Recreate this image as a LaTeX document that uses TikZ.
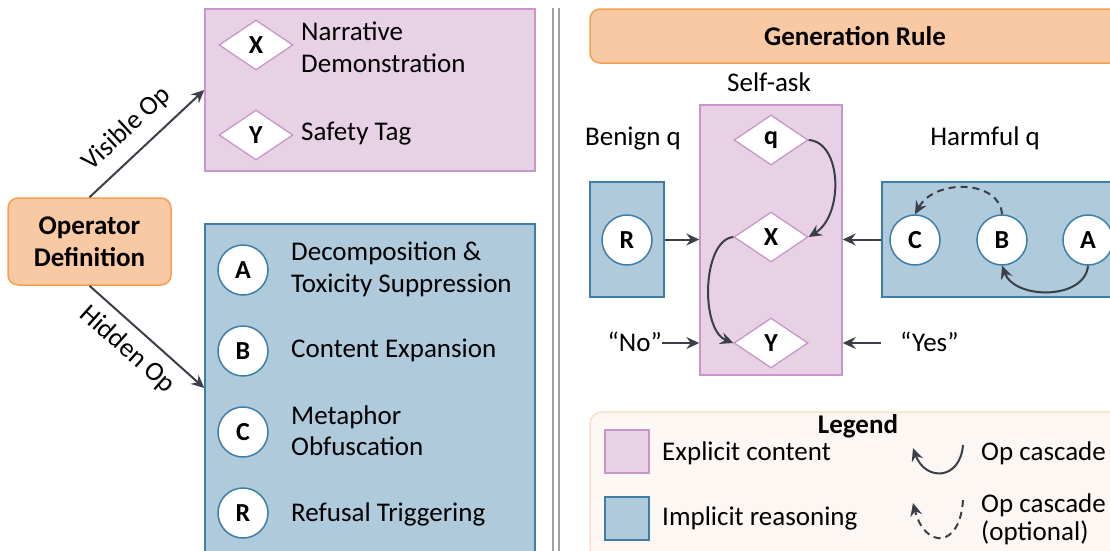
\documentclass[tikz,border=0pt]{standalone}
\usepackage{fontspec}
\setmainfont{Carlito}
\usetikzlibrary{arrows.meta,shapes.geometric}

\definecolor{pinkfill}{RGB}{232,209,228}
\definecolor{pinkline}{RGB}{200,150,200}
\definecolor{bluefill}{RGB}{174,202,219}
\definecolor{blueline}{RGB}{60,126,168}
\definecolor{peachfill}{RGB}{249,201,164}
\definecolor{peachline}{RGB}{245,160,80}
\definecolor{arrowgray}{RGB}{58,63,71}
\definecolor{legendfill}{RGB}{253,247,243}
\definecolor{legendline}{RGB}{251,221,188}
\definecolor{dividergray}{RGB}{160,160,165}

\begin{document}
\begin{tikzpicture}[x=1pt,y=-1pt,
  txt/.style={font=\fontsize{27}{32}\selectfont, inner sep=0pt},
  lbl/.style={txt, anchor=base west},
  btxt/.style={font=\fontsize{27}{32}\selectfont\bfseries, inner sep=0pt},
  pinkbox/.style={draw=pinkline, fill=pinkfill, line width=1.5pt, inner sep=0pt},
  bluebox/.style={draw=blueline, fill=bluefill, line width=1.5pt, inner sep=0pt},
  peachbox/.style={draw=peachline, fill=peachfill, line width=1.5pt,
    rounded corners=10pt, inner sep=0pt, align=center,
    font=\fontsize{27}{32}\selectfont\bfseries},
  opdiamond/.style={diamond, draw=pinkline, fill=white, line width=1.3pt,
    minimum width=74pt, minimum height=50pt, inner sep=0pt,
    font=\fontsize{26}{30}\selectfont\bfseries},
  opcircle/.style={circle, draw=blueline, fill=white, line width=1.5pt,
    minimum size=50pt, inner sep=0pt, font=\fontsize{26}{30}\selectfont\bfseries},
  flow/.style={draw=arrowgray, line width=2pt,
    -{Stealth[length=13pt,width=12pt,inset=4.5pt]}},
  optflow/.style={flow, dash pattern=on 7pt off 5pt},
]
\useasboundingbox (0,0) rectangle (1110,550);
\clip (0,0) rectangle (1110,550);

% ---------------- operator definitions (left half) ----------------
\node[pinkbox, minimum width=330pt, minimum height=162pt] (vis) at (370,90) {};
\node[bluebox, minimum width=330pt, minimum height=328pt] (hid) at (370,388) {};
\node[peachbox, minimum width=163pt, minimum height=87pt] (opdef) at (89.5,241.5) {Operator\\Definition};

\draw[flow] (opdef.north) -- node[txt, pos=0.47, sloped, above=12pt] (vislbl) {Visible Op} (vis.west);
\draw[flow] (opdef.south) -- node[txt, pos=0.46, sloped, below=10pt] (hidlbl) {Hidden Op} (hid.west);

% visible operators
\node[opdiamond] (dx) at (256,45) {X};
\node[lbl] (dxa) at (301,40) {Narrative};
\node[lbl] (dxb) at (301,72) {Demonstration};
\node[opdiamond] (dy) at (256,135) {Y};
\node[lbl] (dya) at (301,140) {Safety Tag};

% hidden operators
\node[opcircle] (ca) at (243,270) {A};
\node[lbl] (caa) at (291,260) {Decomposition \&};
\node[lbl] (cab) at (291,292) {Toxicity Suppression};
\node[opcircle] (cb) at (243,351) {B};
\node[lbl] (cba) at (291,357) {Content Expansion};
\node[opcircle] (cc) at (243,432) {C};
\node[lbl] (cca) at (291,424) {Metaphor};
\node[lbl] (ccb) at (291,455) {Obfuscation};
\node[opcircle] (cr) at (243,513) {R};
\node[lbl] (cra) at (291,521) {Refusal Triggering};

% ---------------- divider ----------------
\draw[dividergray, line width=2pt] (553,8) -- (553,552);
\draw[dividergray, line width=2pt] (558.5,8) -- (558.5,552);

% ---------------- generation rule (right half) ----------------
\node[peachbox, minimum width=530pt, minimum height=54pt] (gen) at (855,36) {Generation Rule};

\node[txt, anchor=base] (selflbl) at (769,91) {Self-ask};
\node[txt, anchor=base] (benlbl) at (633,145) {Benign q};
\node[txt, anchor=base] (harmlbl) at (985,145) {Harmful q};

\node[pinkbox, minimum width=142pt, minimum height=270pt] (self) at (771,240) {};
\node[opdiamond] (q) at (771,140) {q};
\node[opdiamond] (x) at (771,237) {X};
\node[opdiamond] (y) at (771,343) {Y};

\node[bluebox, minimum width=74pt, minimum height=115pt] (ben) at (627,239.5) {};
\node[opcircle] (r) at (627,240) {R};

\node[bluebox, minimum width=239pt, minimum height=115pt] (harm) at (1001.5,239.5) {};
\node[opcircle] (c) at (915,240) {C};
\node[opcircle] (b) at (1002,240) {B};
\node[opcircle] (a) at (1088,240) {A};

\draw[flow] (ben.east) -- (self.west |- ben.east);
\draw[flow] (harm.west) -- (self.east |- harm.west);
\draw[flow] (q.east) .. controls (842,142) and (844,215) .. (x.east);
\draw[flow] (x.west) .. controls (702,240) and (700,330) .. (y.west);
\draw[optflow] (b.north) .. controls (1000,180) and (935,178) .. (c.north);
\draw[flow] (a.south) .. controls (1085,300) and (1015,300) .. (b.south);

\node[txt, anchor=base east] (no) at (662,351) {“No”};
\node[lbl] (yes) at (900,351) {“Yes”};
\draw[flow] (y -| no.east) -- (y -| self.west);
\draw[flow] (y -| harm.west) -- (y -| self.east);

% ---------------- legend ----------------
\node[draw=legendline, fill=legendfill, rounded corners=12pt, line width=1.3pt,
  minimum width=536pt, minimum height=148pt] (leg) at (858,486) {};
\node[btxt, anchor=base] (legtitle) at (858,433) {Legend};
\node[pinkbox, minimum width=44pt, minimum height=43pt] (swp) at (627,451.5) {};
\node[bluebox, minimum width=44pt, minimum height=43pt] (swb) at (627,518.5) {};
\node[lbl] (swpl) at (662,460) {Explicit content};
\node[lbl] (swbl) at (662,525) {Implicit reasoning};

\coordinate (k1s) at (963,445);
\coordinate (k1e) at (913,448);
\coordinate (k2s) at (963,500);
\coordinate (k2e) at (913,503);
\draw[flow] (k1s) .. controls (960,481) and (925,481) .. (k1e);
\draw[optflow] (k2s) .. controls (960,549) and (925,549) .. (k2e);
\node[lbl] (k1l) at (981,460) {Op cascade};
\node[lbl] (k2a) at (981,512) {Op cascade};
\node[lbl] (k2b) at (981,540) {(optional)};
\end{tikzpicture}
\end{document}
